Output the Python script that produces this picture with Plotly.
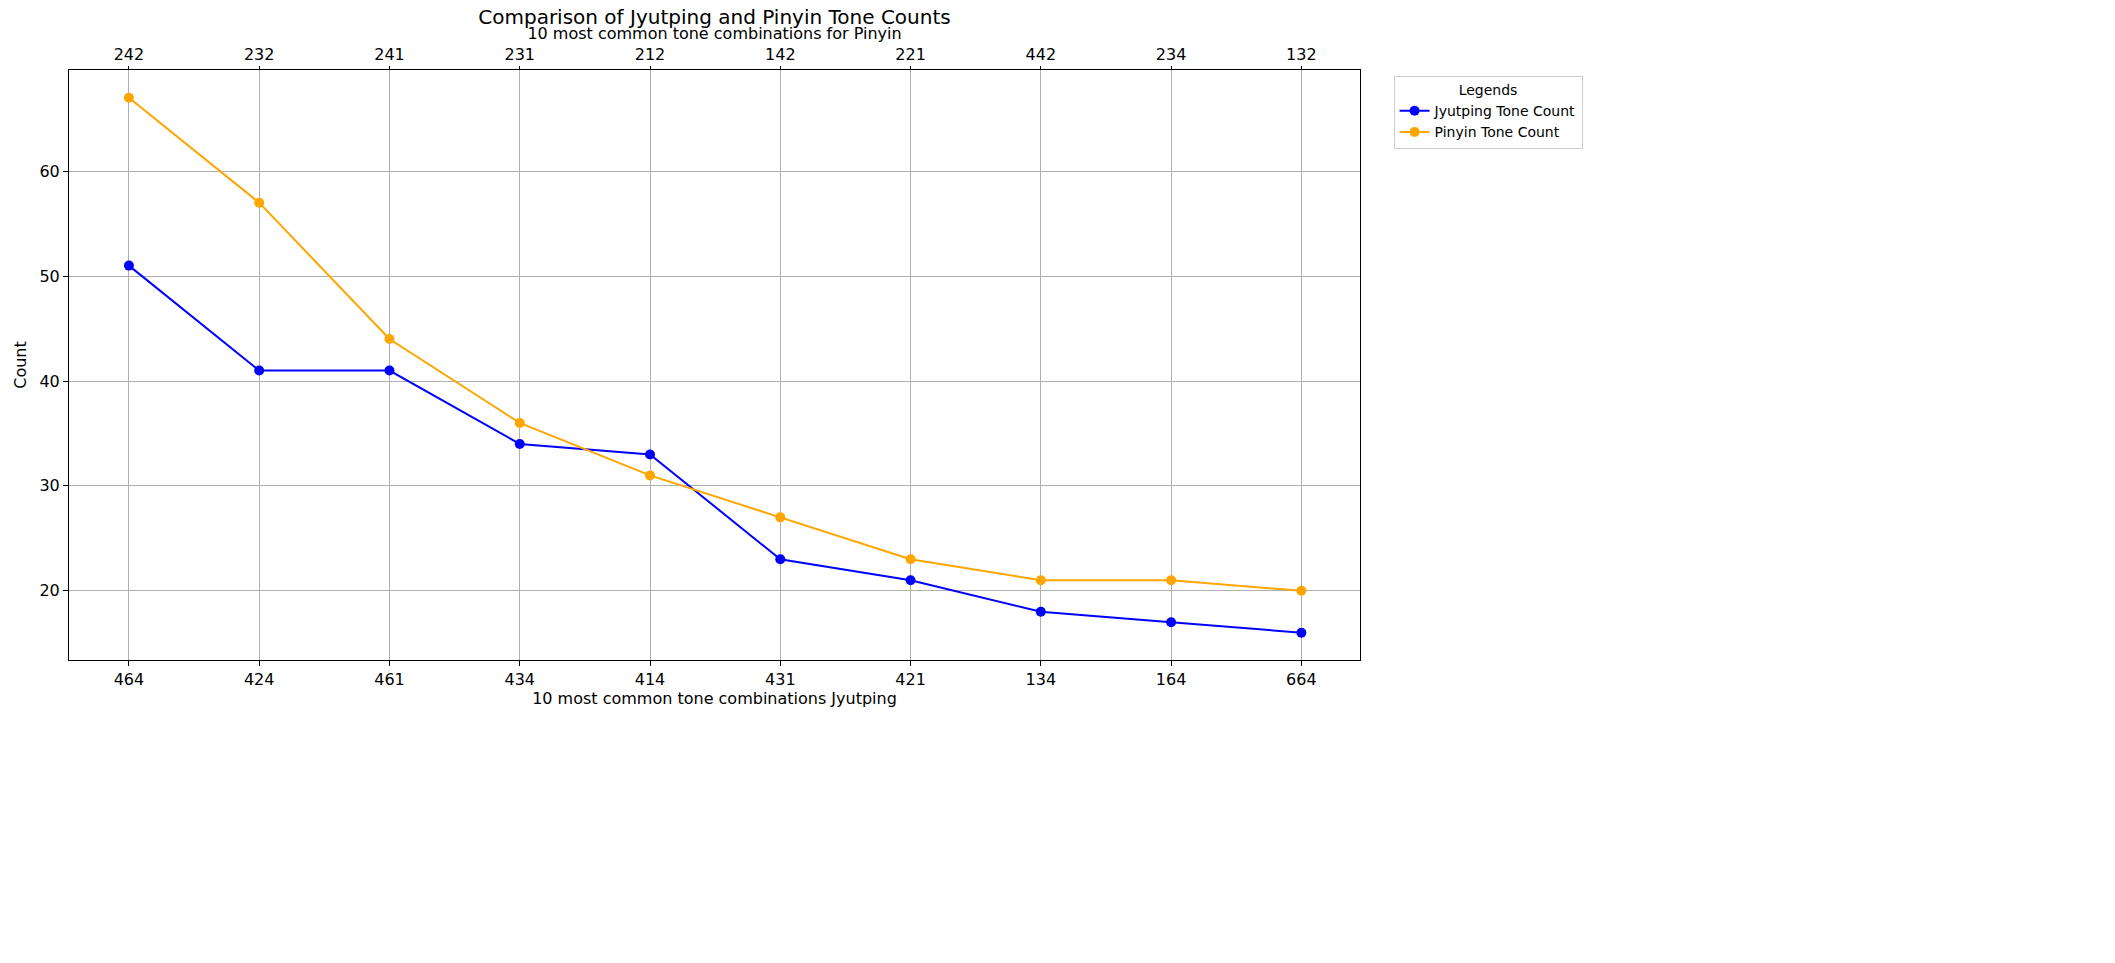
import plotly.graph_objects as go


def plot_counts(jyut_labels, jyut_counts, pin_labels, pin_counts):
    idx = list(range(len(jyut_labels)))
    fig = go.Figure()
    fig.add_trace(go.Scatter(
        name="Jyutping Tone Count",
        mode="lines+markers",
        x=idx, y=jyut_counts,
        marker={'size': 10, 'color': 'blue'},
        line=dict(width=2, color='blue')))
    fig.add_trace(go.Scatter(
        name="Pinyin Tone Count",
        mode="lines+markers",
        x=idx, y=pin_counts, xaxis='x2',
        marker={'size': 10, 'color': 'orange'},
        line=dict(width=2, color='orange')))

    axis_style = dict(showline=True, linecolor='black', mirror=True, ticks='outside',
                      ticklen=5, tickcolor='black', showgrid=True, gridcolor='#b0b0b0',
                      zeroline=False, tickfont=dict(size=16, color='black'))
    fig.update_layout(
        template='plotly_white',
        font=dict(family='DejaVu Sans', color='black'),
        title=dict(text='Comparison of Jyutping and Pinyin Tone Counts', x=0.5, xanchor='center',
                   xref='paper', y=0.99, yanchor='middle', font=dict(size=20)),
        margin={"r": 747, "t": 62, "l": 48, "b": 295},
        xaxis=dict(axis_style, range=[-0.46, 9.45], tickvals=idx, ticktext=jyut_labels,
                   title=dict(text='10 most common tone combinations Jyutping', font=dict(size=16), standoff=4)),
        xaxis2=dict(axis_style, range=[-0.46, 9.45], tickvals=idx, ticktext=pin_labels,
                    overlaying='x', side='top', showgrid=False, ticklen=3,
                    title=dict(text='10 most common tone combinations for Pinyin', font=dict(size=16), standoff=0)),
        yaxis=dict(axis_style, range=[13.4, 69.65], tickvals=[20, 30, 40, 50, 60],
                   title=dict(text='Count', font=dict(size=16), standoff=8)),
        legend=dict(title=dict(text='Legends', side='top center', font=dict(size=14)),
                    x=1.026, y=0.99, xanchor='left', yanchor='top',
                    bordercolor='#cccccc', borderwidth=1, font=dict(size=14)),
        showlegend=True)
    return fig


jyutping_labels = ['464', '424', '461', '434', '414', '431', '421', '134', '164', '664']
jyutping_counts = [51, 41, 41, 34, 33, 23, 21, 18, 17, 16]
pinyin_labels = ['242', '232', '241', '231', '212', '142', '221', '442', '234', '132']
pinyin_counts = [67, 57, 44, 36, 31, 27, 23, 21, 21, 20]

fig = plot_counts(jyutping_labels, jyutping_counts, pinyin_labels, pinyin_counts)
fig.write_html("out.html")
